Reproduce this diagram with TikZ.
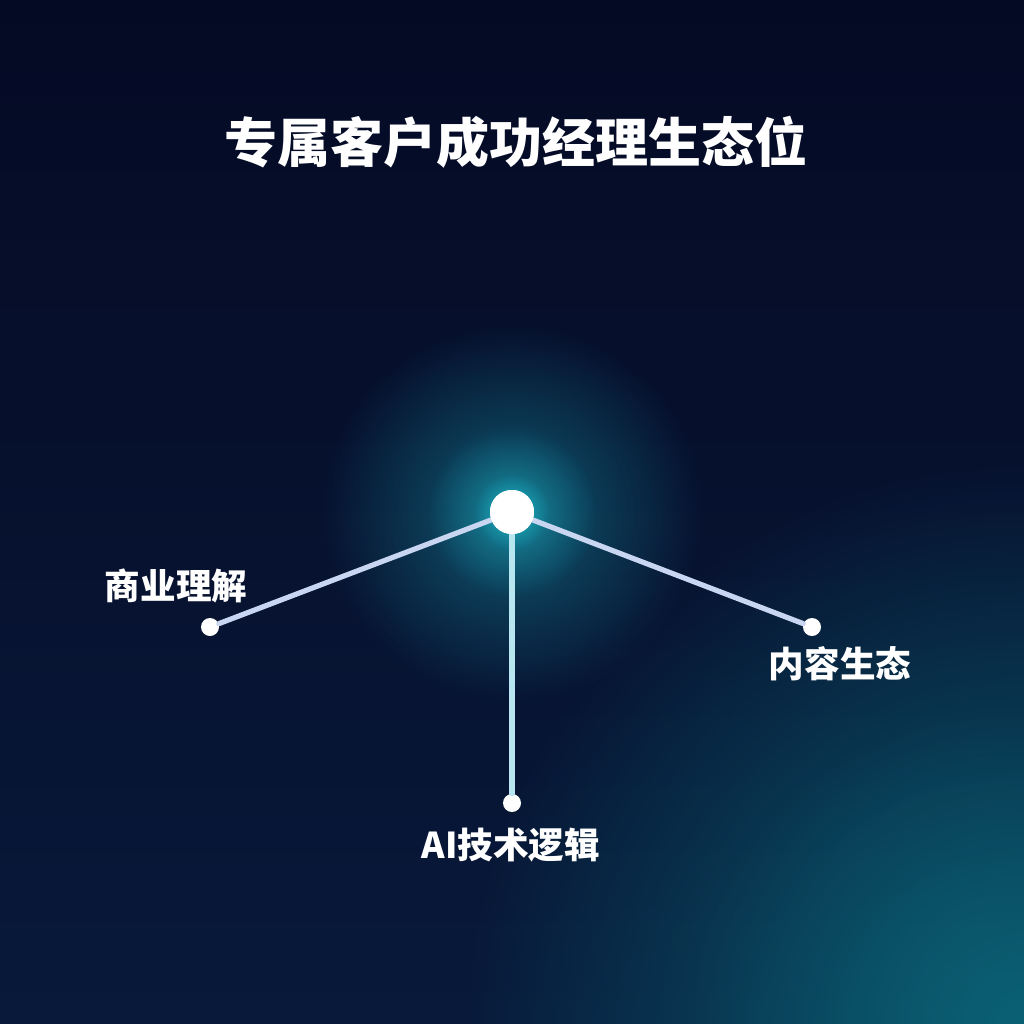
\documentclass[tikz,border=0pt]{standalone}
\usepackage{fontspec}
\newfontfamily\cjk{Noto Sans CJK SC}
\usetikzlibrary{fadings}
\tikzfading[name=glowfade, inner color=transparent!0, outer color=transparent!100]
\definecolor{bgtop}{HTML}{050A24}
\definecolor{bgmid}{HTML}{08193A}
\definecolor{teal}{HTML}{0B6678}
\definecolor{glow}{HTML}{1FC8D8}
\definecolor{linec}{HTML}{C8D6F2}
\definecolor{linev}{HTML}{B8E6F0}
\tikzset{
  conn/.style={line width=2.6pt, line cap=round},
  dotnode/.style={circle, fill=white, inner sep=0pt, minimum size=9pt},
  hubnode/.style={circle, fill=white, inner sep=0pt, minimum size=22pt},
  lbl/.style={text=white, font=\cjk\bfseries\fontsize{17.8}{20}\selectfont, inner sep=0pt},
  ttl/.style={text=white, font=\cjk\bfseries\fontsize{26.5}{30}\selectfont, inner sep=0pt}
}
\begin{document}
\begin{tikzpicture}[x=0.5pt,y=-0.5pt]
\useasboundingbox (0,0) rectangle (1024,1024);
% background
\shade[top color=bgtop, bottom color=bgmid] (0,0) rectangle (1024,1024);
\begin{scope}
\clip (0,0) rectangle (1024,1024);
\fill[teal, path fading=glowfade, opacity=0.9] (1024,1024) circle (560);
\fill[teal, path fading=glowfade, opacity=0.4] (1000,1024) circle (320);
% hub glow
\fill[glow, path fading=glowfade, opacity=0.4] (512,512) circle (190);
\fill[glow, path fading=glowfade, opacity=0.45] (512,512) circle (85);
\fill[glow, path fading=glowfade, opacity=0.6] (512,512) circle (38);
\end{scope}
% nodes
\node[hubnode] (hub) at (512,512) {};
\node[dotnode] (l) at (210,627) {};
\node[dotnode] (b) at (512,803) {};
\node[dotnode] (r) at (812,627) {};
\draw[conn, linec] (hub) -- (l);
\draw[conn, linev] (hub) -- (b);
\draw[conn, linec] (hub) -- (r);
\node[hubnode] at (hub) {};
% labels
\node[ttl] (title) at (516,142) {专属客户成功经理生态位};
\node[lbl] (ll) at (176,586) {商业理解};
\node[lbl] (rl) at (840,664) {内容生态};
\node[lbl] (bl) at (511,845) {AI技术逻辑};
\end{tikzpicture}
\end{document}
